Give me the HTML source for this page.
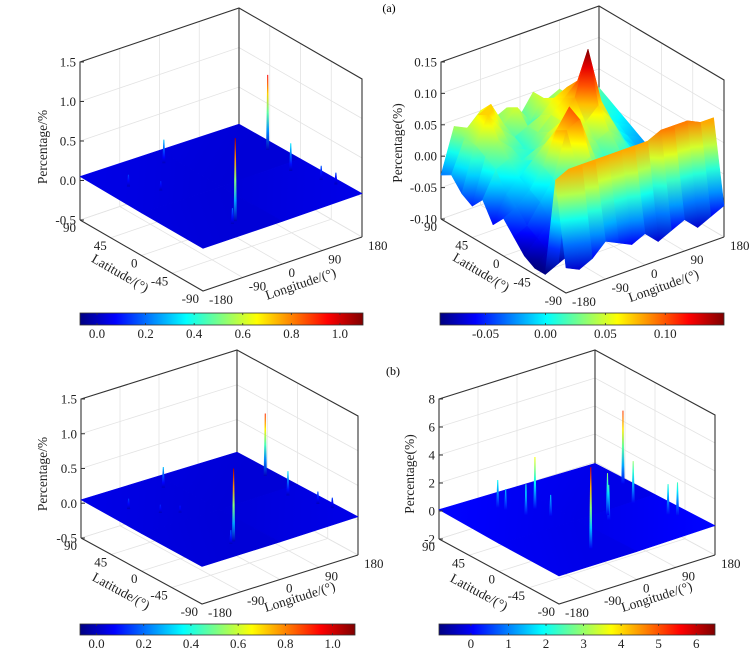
<!DOCTYPE html>
<html><head><meta charset="utf-8"><style>
html,body{margin:0;padding:0;background:#fff;}
svg{display:block;font-family:"Liberation Serif",serif;}
</style></head><body>
<svg id="fig" xmlns="http://www.w3.org/2000/svg" width="752" height="657" viewBox="0 0 752 657">
<rect width="752" height="657" fill="#fff"/>
<defs id="defs"></defs>
<text x="389" y="12" font-size="12" text-anchor="middle">(a)</text>
<text x="393" y="375" font-size="12" text-anchor="middle">(b)</text>
</svg>
<script>
const latTicks=[90,45,0,-45,-90];
const latLabels=["90","45","0","-45","-90"];
const lonTicks=[-180,-90,0,90,180];
const lonLabels=["-180","-90","0","90","180"];

const alZTicks=[-0.5,0,0.5,1.0,1.5];
const alZLabels=["-0.5","0.0","0.5","1.0","1.5"];
const alCTicks=[0,0.2,0.4,0.6,0.8,1.0];
const alCLabels=["0.0","0.2","0.4","0.6","0.8","1.0"];
const alSurfLat=[90,0,-90];
const alSurfLon=[-180,0,180];
const alSurfVals=[[0.05,0.04,0.03],[0.04,0.03,0.04],[0.04,0.04,0.05]];
const alSpikeLat=[-59,37,72,-9,-40,-55,54,30,-62];
const alSpikeLon=[-59,163,-18,144,165,175,-126,-90,-70];
const alSpikeVal=[1.05,0.95,0.3,0.35,0.18,0.15,0.15,0.12,0.2];

const arLat=[90,75,60,45,30,15,0,-15,-30,-45,-60,-75,-90];
const arLon=[-180,-150,-120,-90,-60,-30,0,30,60,90,120,150,180];
const arVals=[
[-0.03,0.04,0.03,0.05,0.03,0.04,0.02,0.05,0.03,0.04,0.02,0.03,0.02],
[-0.02,0.03,0.06,0.07,0.03,0.05,0.02,0.05,0.04,0.03,0.03,0.02,0.01],
[-0.04,0.03,0.07,0.04,0.02,0.03,0.04,0.06,0.07,0.04,0.02,0.01,0.00],
[-0.05,0.02,0.04,0.02,0.01,0.03,0.05,0.07,0.09,0.05,0.02,0.00,-0.01],
[-0.03,0.01,0.02,0.01,0.02,0.04,0.05,0.08,0.15,0.06,0.01,-0.01,-0.02],
[-0.06,-0.02,0.00,0.02,0.04,0.06,0.04,0.05,0.07,0.04,0.00,-0.02,-0.03],
[-0.04,-0.03,-0.01,0.02,0.07,0.10,0.05,0.03,0.04,0.02,-0.01,-0.03,-0.05],
[-0.06,-0.05,-0.02,0.01,0.08,0.09,0.03,0.01,0.02,0.00,-0.03,-0.05,-0.07],
[-0.08,-0.06,-0.04,-0.02,0.03,0.04,0.00,-0.02,-0.01,-0.02,-0.04,-0.06,-0.08],
[-0.09,-0.07,-0.06,-0.04,-0.03,-0.01,-0.03,-0.04,-0.03,-0.04,-0.05,-0.07,-0.06],
[-0.09,-0.08,-0.07,-0.06,-0.05,-0.04,-0.05,-0.06,-0.05,-0.06,-0.07,-0.08,-0.07],
[0.07,0.08,0.08,0.08,0.08,0.08,0.08,0.08,0.09,0.09,0.09,0.08,0.08],
[-0.06,-0.07,-0.06,-0.04,-0.05,-0.06,-0.05,-0.07,-0.06,-0.05,-0.07,-0.06,-0.05]];
const arZTicks=[-0.10,-0.05,0,0.05,0.10,0.15];
const arZLabels=["-0.10","-0.05","0.00","0.05","0.10","0.15"];
const arCTicks=[-0.05,0,0.05,0.10];
const arCLabels=["-0.05","0.00","0.05","0.10"];

const blZTicks=[-0.5,0,0.5,1.0,1.5];
const blZLabels=["-0.5","0.0","0.5","1.0","1.5"];
const blCTicks=[0,0.2,0.4,0.6,0.8,1.0];
const blCLabels=["0.0","0.2","0.4","0.6","0.8","1.0"];
const blSurfLat=[90,0,-90];
const blSurfLon=[-180,0,180];
const blSurfVals=[[0.05,0.04,0.03],[0.04,0.03,0.04],[0.04,0.04,0.05]];
const blSpikeLat=[-59,37,72,-9,-40,-55,54,30,-62,20];
const blSpikeLon=[-59,163,-18,144,165,175,-126,-90,-70,-60];
const blSpikeVal=[1.05,0.9,0.3,0.35,0.18,0.15,0.15,0.12,0.2,0.1];

const brZTicks=[-2,0,2,4,6,8];
const brZLabels=["-2","0","2","4","6","8"];
const brCTicks=[0,1,2,3,4,5,6];
const brCLabels=["0","1","2","3","4","5","6"];
const brSurfLat=[90,0,-90];
const brSurfLon=[-180,0,180];
const brSurfVals=[[0.1,0.0,-0.1],[0.0,-0.1,0.0],[0.0,0.0,0.1]];
const brSpikeLat=[-59,37,41,63,55,35,20,-19,-10,-3,-43,-50];
const brSpikeLon=[-59,163,-34,-86,-80,-64,-30,44,55,125,144,155];
const brSpikeVal=[5.8,5.2,3.7,2.0,1.5,2.2,1.5,2.5,3.0,3.0,2.2,2.4];

const NS="http://www.w3.org/2000/svg";
const svg=document.getElementById('fig');
const defs=document.getElementById('defs');
let gid=0;
function mk(tag,attrs,parent){const e=document.createElementNS(NS,tag);for(const k in attrs)e.setAttribute(k,attrs[k]);(parent||svg).appendChild(e);return e;}
function jet(t){t=Math.max(0,Math.min(1,t));const c=x=>Math.round(255*Math.max(0,Math.min(1,x)));return `rgb(${c(1.5-Math.abs(4*t-3))},${c(1.5-Math.abs(4*t-2))},${c(1.5-Math.abs(4*t-1))})`;}
function P(c,lat,lon,z){const u=(90-lat)/180,v=(lon+180)/360;const x=c.L[0]+u*(c.F[0]-c.L[0])+v*(c.R[0]-c.F[0]);let y=c.L[1]+u*(c.F[1]-c.L[1])+v*(c.R[1]-c.F[1]);y-=(z-c.zmin)/(c.zmax-c.zmin)*c.H;return [x,y];}
function grad(c,p1,z1,p2,z2){const id='g'+(gid++);const g=mk('linearGradient',{id:id,gradientUnits:'userSpaceOnUse',x1:p1[0],y1:p1[1],x2:p2[0],y2:p2[1]},defs);for(let k=0;k<=4;k++){const val=z1+(z2-z1)*k/4;mk('stop',{offset:k/4,'stop-color':jet((val-c.cmin)/(c.cmax-c.cmin))},g);}return 'url(#'+id+')';}

function drawPanel(c,key,zTicks,zLabels,cTicks,cLabels,sLat,sLon,sVals,spLat,spLon,spVal){
  const g=mk('g',{});
  
  
  const gc='#e3e3e3';
  for(let i=0;i<zTicks.length;i++){
    const a=P(c,90,-180,zTicks[i]),b=P(c,90,180,zTicks[i]),r=P(c,-90,180,zTicks[i]);
    const l=mk('polyline',{points:`${a} ${b} ${r}`,fill:'none',stroke:gc,'stroke-width':0.8},g);
    
    
  }
  for(let i=0;i<lonTicks.length;i++){
    const a=P(c,90,lonTicks[i],c.zmin),b=P(c,90,lonTicks[i],c.zmax),f=P(c,-90,lonTicks[i],c.zmin);
    const l=mk('polyline',{points:`${f} ${a} ${b}`,fill:'none',stroke:gc,'stroke-width':0.8},g);
    
    
  }
  for(let i=0;i<latTicks.length;i++){
    const a=P(c,latTicks[i],-180,c.zmin),b=P(c,latTicks[i],180,c.zmin),t=P(c,latTicks[i],180,c.zmax);
    const l=mk('polyline',{points:`${a} ${b} ${t}`,fill:'none',stroke:gc,'stroke-width':0.8},g);
    
    
  }
  const Lb=P(c,90,-180,c.zmin),Lt=P(c,90,-180,c.zmax),Bb=P(c,90,180,c.zmin),Bt=P(c,90,180,c.zmax),Rb=P(c,-90,180,c.zmin),Rt=P(c,-90,180,c.zmax),Fb=P(c,-90,-180,c.zmin);
  const box=mk('path',{d:`M${Lb}L${Lt}L${Bt}L${Rt}L${Rb}M${Bb}L${Bt}M${Lb}L${Fb}L${Rb}`,fill:'none',stroke:'#333','stroke-width':1.1},g);
  
  
  const quads=[];
  for(let i=0;i<sLat.length-1;i++)for(let j=0;j<sLon.length-1;j++){
    const u=(90-(sLat[i]+sLat[i+1])/2)/180,v=((sLon[j]+sLon[j+1])/2+180)/360;quads.push([i,j,u-v]);}
  quads.sort((a,b)=>a[2]-b[2]);
  for(const q of quads){
    const [i,j]=q;
    const pts=[[sLat[i],sLon[j],sVals[i][j]],[sLat[i+1],sLon[j],sVals[i+1][j]],[sLat[i+1],sLon[j+1],sVals[i+1][j+1]],[sLat[i],sLon[j+1],sVals[i][j+1]]];
    let mx=0,mn=0;pts.forEach((p,k)=>{if(p[2]>pts[mx][2])mx=k;if(p[2]<pts[mn][2])mn=k;});
    const pp=pts.map(p=>P(c,p[0],p[1],p[2]));
    let fill;
    if(pts[mx][2]-pts[mn][2]<1e-9) fill=jet((pts[0][2]-c.cmin)/(c.cmax-c.cmin));
    else{let p1=pp[mx],p2=pp[mn];if(Math.abs(p1[1]-p2[1])<0.5&&Math.abs(p1[0]-p2[0])<0.5)p2=[p2[0],p2[1]+1];fill=grad(c,p1,pts[mx][2],p2,pts[mn][2]);}
    const s=mk('polygon',{points:pp.map(p=>p.join(',')).join(' '),fill:fill,stroke:fill,'stroke-width':0.6,'stroke-linejoin':'round'},g);
    
    
  }
  for(let k=0;k<spVal.length;k++){
    const b=P(c,spLat[k],spLon[k],0),t=P(c,spLat[k],spLon[k],spVal[k]);
    const fill=grad(c,t,spVal[k],b,0);
    const s=mk('polygon',{points:`${b[0]-1.6},${b[1]} ${t[0]-0.5},${t[1]} ${t[0]+0.5},${t[1]} ${b[0]+1.6},${b[1]}`,fill:fill},g);
    
    
  }
  for(let i=0;i<zTicks.length;i++){
    const p=P(c,90,-180,zTicks[i]);
    const tk=mk('line',{x1:p[0],y1:p[1],x2:p[0]+4,y2:p[1],stroke:'#333','stroke-width':1},g);
    
    
    const t=mk('text',{x:p[0]-4,y:p[1]+4.5,'font-size':13,'text-anchor':'end',fill:'#222'},g);
    t.textContent=zLabels[i];
    
    
  }
  for(let i=0;i<latTicks.length;i++){
    const p=P(c,latTicks[i],-180,c.zmin);
    const t=mk('text',{x:p[0]-4,y:p[1]+12,'font-size':13,'text-anchor':'end',fill:'#222'},g);
    t.textContent=latLabels[i];
    
    
  }
  for(let i=0;i<lonTicks.length;i++){
    const p=P(c,-90,lonTicks[i],c.zmin);
    const t=mk('text',{x:p[0]+6,y:p[1]+13,'font-size':13,'text-anchor':'start',fill:'#222'},g);
    t.textContent=lonLabels[i];
    
    
  }
  const ang1=Math.atan2(c.F[1]-c.L[1],c.F[0]-c.L[0])*180/Math.PI;
  const ang2=Math.atan2(c.R[1]-c.F[1],c.R[0]-c.F[0])*180/Math.PI;
  const lx=c.L[0]+38,ly=c.L[1]+57;
  const lt=mk('text',{x:lx,y:ly,'font-size':13.5,'text-anchor':'middle',transform:`rotate(${ang1} ${lx} ${ly})`,fill:'#222'},g);
  lt.textContent='Latitude/(°)';
  
  
  const ox=c.F[0]+99,oy=c.F[1]-3;
  const ot=mk('text',{x:ox,y:oy,'font-size':13.5,'text-anchor':'middle',transform:`rotate(${ang2} ${ox} ${oy})`,fill:'#222'},g);
  ot.textContent='Longitude/(°)';
  
  
  const zt=mk('text',{x:c.yl[0],y:c.yl[1],'font-size':13.5,'text-anchor':'middle',transform:`rotate(-90 ${c.yl[0]} ${c.yl[1]})`,fill:'#222'},g);
  zt.textContent=c.ylabel;
  
  
  const cid='cb'+(gid++);
  const cg=mk('linearGradient',{id:cid,x1:0,y1:0,x2:1,y2:0},defs);
  for(let k=0;k<=16;k++)mk('stop',{offset:k/16,'stop-color':jet(k/16)},cg);
  const cb=mk('rect',{x:c.cb[0],y:c.cb[1],width:c.cb[2]-c.cb[0],height:c.cb[3]-c.cb[1],fill:`url(#${cid})`,stroke:'#333','stroke-width':0.8},g);
  
  
  for(let i=0;i<cTicks.length;i++){
    const x=c.cb[0]+(cTicks[i]-c.cmin)/(c.cmax-c.cmin)*(c.cb[2]-c.cb[0]);
    const tk=mk('path',{d:`M${x},${c.cb[1]}v2M${x},${c.cb[3]}v-2`,stroke:'#333','stroke-width':0.8},g);
    
    
    const t=mk('text',{x:x,y:c.cb[3]+13,'font-size':13,'text-anchor':'middle',fill:'#222'},g);
    t.textContent=cLabels[i];
    
    
  }
}
drawPanel({L:[80,220],F:[203,291],R:[362,237],H:158,zmin:-0.5,zmax:1.5,cmin:-0.07,cmax:1.095,cb:[80,313,363,325],yl:[47,147],ylabel:'Percentage/%'},'panel-a-left',alZTicks,alZLabels,alCTicks,alCLabels,alSurfLat,alSurfLon,alSurfVals,alSpikeLat,alSpikeLon,alSpikeVal);
drawPanel({L:[441,219],F:[566,293],R:[724,237],H:157,zmin:-0.10,zmax:0.15,cmin:-0.088,cmax:0.149,cb:[440,313,724,325],yl:[402,143],ylabel:'Percentage(%)'},'panel-a-right',arZTicks,arZLabels,arCTicks,arCLabels,arLat,arLon,arVals,[],[],[]);
drawPanel({L:[81,538],F:[202,604],R:[358,555],H:139,zmin:-0.5,zmax:1.5,cmin:-0.07,cmax:1.095,cb:[80,624,355,635],yl:[47,474],ylabel:'Percentage/%'},'panel-b-left',blZTicks,blZLabels,blCTicks,blCLabels,blSurfLat,blSurfLon,blSurfVals,blSpikeLat,blSpikeLon,blSpikeVal);
drawPanel({L:[439,539],F:[559,604],R:[715,555],H:140,zmin:-2,zmax:8,cmin:-0.85,cmax:6.5,cb:[439,624,715,635],yl:[414,474],ylabel:'Percentage(%)'},'panel-b-right',brZTicks,brZLabels,brCTicks,brCLabels,brSurfLat,brSurfLon,brSurfVals,brSpikeLat,brSpikeLon,brSpikeVal);
</script>
</body></html>
